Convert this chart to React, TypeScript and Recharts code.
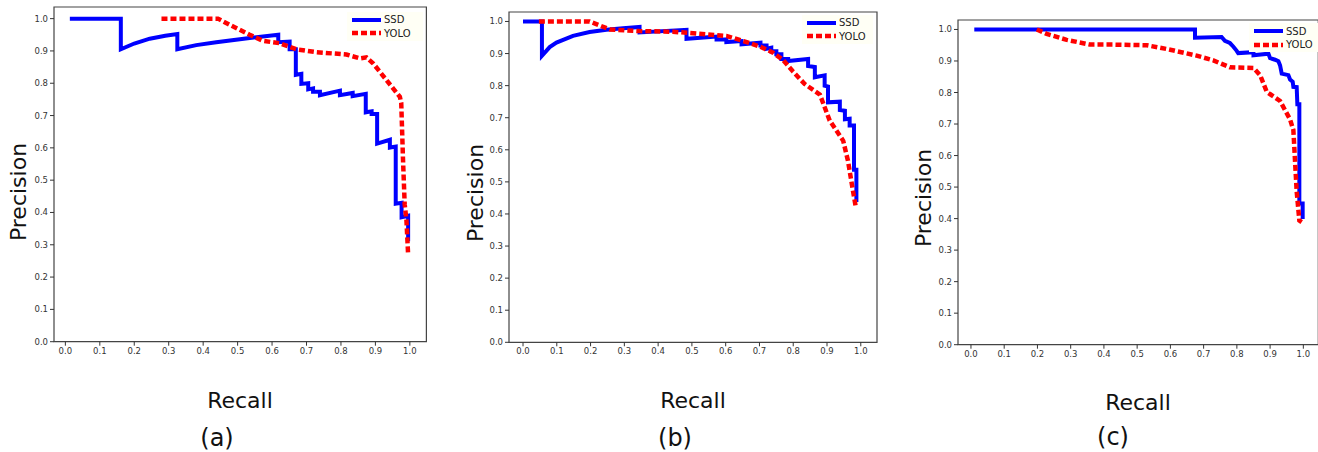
import React from 'react'
import { LineChart, Line, XAxis, YAxis, ReferenceArea, Legend } from 'recharts'

// recall / precision pairs
const ssdRecallA = [0.013, 0.161, 0.161, 0.2, 0.245, 0.29, 0.325, 0.325, 0.38, 0.438, 0.535, 0.618, 0.618, 0.651, 0.651, 0.669, 0.669, 0.685, 0.685, 0.705, 0.705, 0.719, 0.719, 0.739, 0.739, 0.797, 0.797, 0.834, 0.834, 0.872, 0.872, 0.889, 0.889, 0.905, 0.905, 0.942, 0.942, 0.959, 0.959, 0.976, 0.976, 0.995, 0.995]
const ssdPrecisionA = [1.0, 1.0, 0.905, 0.923, 0.938, 0.947, 0.952, 0.905, 0.918, 0.927, 0.94, 0.95, 0.927, 0.929, 0.905, 0.905, 0.826, 0.829, 0.798, 0.8, 0.781, 0.784, 0.774, 0.774, 0.763, 0.777, 0.763, 0.77, 0.76, 0.767, 0.71, 0.713, 0.705, 0.705, 0.613, 0.625, 0.601, 0.604, 0.427, 0.43, 0.385, 0.39, 0.311]
const yoloRecallA = [0.279, 0.443, 0.477, 0.535, 0.574, 0.622, 0.671, 0.729, 0.816, 0.855, 0.874, 0.893, 0.932, 0.971, 0.975, 0.98, 0.985, 0.99, 0.995]
const yoloPrecisionA = [1.0, 1.0, 0.981, 0.95, 0.931, 0.924, 0.905, 0.896, 0.889, 0.877, 0.88, 0.862, 0.81, 0.758, 0.739, 0.568, 0.425, 0.378, 0.269]

const ssdRecallB = [0.0, 0.056, 0.056, 0.079, 0.099, 0.148, 0.197, 0.247, 0.296, 0.345, 0.345, 0.484, 0.484, 0.573, 0.573, 0.602, 0.602, 0.647, 0.647, 0.703, 0.703, 0.721, 0.721, 0.735, 0.735, 0.75, 0.75, 0.765, 0.765, 0.785, 0.785, 0.844, 0.844, 0.864, 0.864, 0.893, 0.893, 0.903, 0.903, 0.938, 0.938, 0.953, 0.953, 0.967, 0.967, 0.98, 0.98, 0.987, 0.987]
const ssdPrecisionB = [1.0, 1.0, 0.893, 0.92, 0.934, 0.955, 0.967, 0.974, 0.979, 0.983, 0.966, 0.974, 0.946, 0.953, 0.944, 0.944, 0.936, 0.939, 0.929, 0.934, 0.925, 0.925, 0.915, 0.918, 0.907, 0.907, 0.898, 0.898, 0.883, 0.883, 0.877, 0.883, 0.861, 0.858, 0.826, 0.832, 0.8, 0.797, 0.748, 0.75, 0.724, 0.722, 0.695, 0.697, 0.676, 0.676, 0.538, 0.538, 0.437]
const yoloRecallB = [0.047, 0.197, 0.257, 0.345, 0.444, 0.543, 0.602, 0.652, 0.701, 0.74, 0.77, 0.8, 0.834, 0.879, 0.908, 0.948, 0.962, 0.977, 0.985]
const yoloPrecisionB = [1.0, 1.0, 0.975, 0.97, 0.968, 0.96, 0.955, 0.939, 0.922, 0.903, 0.88, 0.843, 0.805, 0.772, 0.691, 0.628, 0.566, 0.471, 0.423]

const ssdRecallC = [0.01, 0.674, 0.674, 0.754, 0.764, 0.779, 0.789, 0.799, 0.804, 0.85, 0.85, 0.895, 0.9, 0.915, 0.925, 0.93, 0.935, 0.955, 0.96, 0.968, 0.97, 0.98, 0.982, 0.988, 0.988, 0.998, 0.998]
const ssdPrecisionC = [1.0, 1.0, 0.974, 0.976, 0.964, 0.957, 0.946, 0.933, 0.925, 0.928, 0.918, 0.923, 0.909, 0.904, 0.899, 0.886, 0.86, 0.855, 0.841, 0.834, 0.818, 0.817, 0.763, 0.763, 0.448, 0.448, 0.399]
const yoloRecallC = [0.198, 0.228, 0.288, 0.358, 0.428, 0.529, 0.589, 0.679, 0.729, 0.779, 0.85, 0.87, 0.89, 0.93, 0.96, 0.97, 0.975, 0.98, 0.988, 0.995]
const yoloPrecisionC = [1.0, 0.986, 0.967, 0.952, 0.952, 0.95, 0.938, 0.917, 0.902, 0.88, 0.878, 0.855, 0.802, 0.773, 0.715, 0.681, 0.583, 0.486, 0.394, 0.389]

const tickValues = [0, 0.1, 0.2, 0.3, 0.4, 0.5, 0.6, 0.7, 0.8, 0.9, 1.0]
const seriesNames = ['SSD', 'YOLO']
const panelLabels = ['(a)', '(b)', '(c)']

const zip = (r: number[], p: number[]) => r.map((v, i) => ({ r: v, p: p[i] }))

const FONT = '"DejaVu Sans", sans-serif'
const YW = 45
const MT = 5
const MR = 5
const XH = 30

type PanelProps = {
  frame: [number, number, number, number]
  xDomain: [number, number]
  yTop: number
  ssd: { r: number; p: number }[]
  yolo: { r: number; p: number }[]
  legendAt: [number, number]
  legendW: number
  precisionAt: [number, number]
  recallAt: [number, number]
  captionAt: [number, number]
  caption: string
}

function LegendBox({ width }: { width: number }) {
  return (
    <div style={{ background: '#fffff5', width, height: 29, fontFamily: FONT, fontSize: 10, color: '#222', position: 'relative' }}>
      {seriesNames.map((name, i) => (
        <div key={name} style={{ position: 'absolute', left: 5, top: 2 + i * 13.5, height: 12, display: 'flex', alignItems: 'center' }}>
          <svg width={29} height={8} style={{ marginRight: 3 }}>
            <line x1={0} y1={4} x2={29} y2={4} stroke={i === 0 ? '#0000ff' : '#ff0000'} strokeWidth={i === 0 ? 4 : 4.5} strokeDasharray={i === 0 ? undefined : '6 3'} />
          </svg>
          <span>{name}</span>
        </div>
      ))}
    </div>
  )
}

function Panel({ frame, xDomain, yTop, ssd, yolo, legendAt, legendW, precisionAt, recallAt, captionAt, caption }: PanelProps) {
  const [L, T, R, B] = frame
  const width = R - L + YW + MR
  const height = B - T + MT + XH
  const left = L - YW
  const top = T - MT
  const tick = { fontSize: 8.5, fill: '#333', fontFamily: FONT }
  return (
    <>
      <div style={{ position: 'absolute', left, top }}>
        <LineChart width={width} height={height} margin={{ top: MT, right: MR, left: 0, bottom: 0 }}>
          <XAxis dataKey="r" type="number" domain={xDomain} ticks={tickValues} allowDataOverflow height={XH} tick={tick} tickSize={4} tickLine={{ stroke: '#333' }} axisLine={false} tickFormatter={(v: number) => v.toFixed(1)} interval={0} />
          <YAxis type="number" domain={[0, yTop]} ticks={tickValues} allowDataOverflow width={YW} tick={tick} tickSize={4} tickLine={{ stroke: '#333' }} axisLine={false} tickFormatter={(v: number) => v.toFixed(1)} interval={0} />
          <ReferenceArea x1={xDomain[0]} x2={xDomain[1]} y1={0} y2={yTop} fill="none" stroke="#444" strokeWidth={1.2} ifOverflow="visible" />
          <Legend
            content={() => <LegendBox width={legendW} />}
            wrapperStyle={{ position: 'absolute', left: legendAt[0] - left, top: legendAt[1] - top, width: legendW }}
          />
          <Line data={ssd} dataKey="p" name="SSD" type="linear" stroke="#0000ff" strokeWidth={4} strokeLinejoin="miter" dot={false} activeDot={false} isAnimationActive={false} />
          <Line data={yolo} dataKey="p" name="YOLO" type="linear" stroke="#ff0000" strokeWidth={4.5} strokeDasharray="6 3" dot={false} activeDot={false} isAnimationActive={false} />
        </LineChart>
      </div>
      <div style={{ position: 'absolute', left: precisionAt[0], top: precisionAt[1], transform: 'translate(-50%, -50%) rotate(-90deg)', fontFamily: FONT, fontSize: 22, color: '#111', whiteSpace: 'nowrap' }}>Precision</div>
      <div style={{ position: 'absolute', left: recallAt[0], top: recallAt[1], transform: 'translate(-50%, -50%)', fontFamily: FONT, fontSize: 22, color: '#111', whiteSpace: 'nowrap' }}>Recall</div>
      <div style={{ position: 'absolute', left: captionAt[0], top: captionAt[1], transform: 'translate(-50%, -50%)', fontFamily: FONT, fontSize: 24, color: '#111', whiteSpace: 'nowrap' }}>{caption}</div>
    </>
  )
}

export default function App() {
  return (
    <div style={{ position: 'absolute', left: 0, top: 0, width: 1318, height: 452, overflow: 'hidden', background: '#fff' }}>
      <Panel
        frame={[54.3, 7.3, 426.7, 371]}
        xDomain={[-0.033, 1.048]}
        yTop={1.036}
        ssd={zip(ssdRecallA, ssdPrecisionA)}
        yolo={zip(yoloRecallA, yoloPrecisionA)}
        legendAt={[347, 12]}
        legendW={76}
        precisionAt={[18, 192]}
        recallAt={[240, 400]}
        captionAt={[217, 438]}
        caption={panelLabels[0]}
      />
      <Panel
        frame={[509.3, 11.7, 877.3, 371]}
        xDomain={[-0.0415, 1.048]}
        yTop={1.0295}
        ssd={zip(ssdRecallB, ssdPrecisionB)}
        yolo={zip(yoloRecallB, yoloPrecisionB)}
        legendAt={[802, 15]}
        legendW={71}
        precisionAt={[475, 193]}
        recallAt={[693, 400]}
        captionAt={[675, 438]}
        caption={panelLabels[1]}
      />
      <Panel
        frame={[958, 20, 1318.3, 373.7]}
        xDomain={[-0.039, 1.045]}
        yTop={1.03}
        ssd={zip(ssdRecallC, ssdPrecisionC)}
        yolo={zip(yoloRecallC, yoloPrecisionC)}
        legendAt={[1249, 23]}
        legendW={70}
        precisionAt={[923, 198]}
        recallAt={[1138, 402]}
        captionAt={[1113, 437]}
        caption={panelLabels[2]}
      />
    </div>
  )
}
